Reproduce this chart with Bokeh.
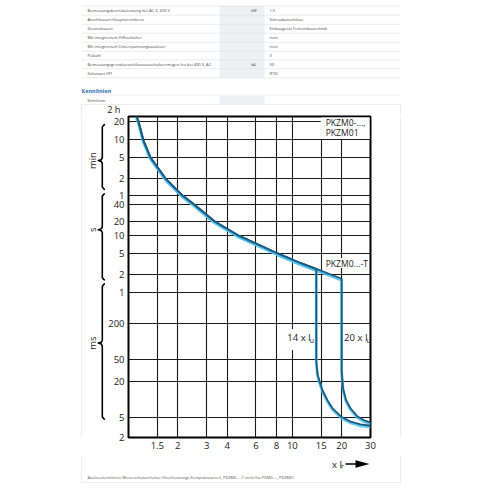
import numpy as np
from bokeh.plotting import figure
from bokeh.layouts import column, row
from bokeh.models import Range1d, LinearScale, FixedTicker, NumeralTickFormatter
from bokeh.core.properties import value
from bokeh.embed import file_html
from bokeh.resources import INLINE

# ---------------- data ----------------
x_ticks = [1.5, 2, 3, 4, 6, 8, 10, 15, 20, 30]
y_tick_seconds = [1200, 600, 300, 120, 60, 40, 20, 10, 5, 2, 1, 0.2, 0.05, 0.02, 0.005, 0.002]
y_tick_labels = ["20", "10", "5", "2", "1", "40", "20", "10", "5", "2", "1", "200", "50", "20", "5", "2"]
top_label = "2 h"
unit_labels = ["min", "s", "ms"]

# common overload part of the tripping curve (x Ir, seconds)
main_current = [1.12, 1.15, 1.23, 1.36, 1.69, 2.15, 2.53, 3.35, 4.75, 8.1, 11.3, 14, 20]
main_time = [7200, 1200, 600, 300, 120, 60, 40, 20, 10, 5, 3.25, 2.54, 1.69]
# short-circuit release PKZM0...-T (14 x Iu)
t_tail_current = [14, 14.23, 14.7, 15.3, 16.4, 17.7, 19.9, 22.7, 26.1, 30]
t_tail_time = [0.048, 0.0276, 0.0195, 0.0141, 0.0096, 0.0069, 0.0051, 0.0041, 0.0036, 0.0034]
# short-circuit release PKZM0-..., PKZM01 (20 x Iu)
std_tail_current = [20, 20.4, 21.3, 22.7, 24.9, 27.3, 30]
std_tail_time = [0.0316, 0.0152, 0.0096, 0.007, 0.0052, 0.0044, 0.0039]

# piecewise logarithmic time scale of the printed chart (seconds -> vertical page position)
scale_seconds = [7200, 1200, 600, 300, 120, 60, 40, 20, 10, 5, 2, 1, 0.2, 0.05, 0.02, 0.005, 0.002]
scale_pos = [116, 120.7, 139.3, 156.7, 178.3, 195.3, 204.3, 220.7, 235.4, 252.7, 274, 291.5,
             323.3, 359, 381, 416.7, 437]

row_labels = ["Bemessungsbetriebsleistung bei AC-3, 400 V", "Anschlussart Hauptstromkreis",
              "Gerätebauart", "Mit integriertem Hilfsschalter",
              "Mit integriertem Unterspannungsauslöser", "Polzahl",
              "Bemessungsgrenzkurzschlussausschaltvermögen Icu bei 400 V, AC", "Schutzart (IP)"]
row_units = ["kW", "", "", "", "", "", "kA", ""]
row_values = ["1.5", "Schraubanschluss", "Einbaugerät Festeinbautechnik", "nein", "nein", "3",
              "50", "IP20"]
caption = ("Auslösekennlinien Motorschutzschalter (Hochleistungs-Kompaktstarter), "
           "PKZM0-...-T nicht für PKM0-..., PKZM01")

# ---------------- helpers ----------------
_lx = -np.log10(np.array(scale_seconds, dtype=float))
_py = np.array(scale_pos, dtype=float)


def ty(t):
    return np.interp(-np.log10(np.asarray(t, dtype=float)), _lx, _py)


FONT = "Open Sans"
DARK = "#1d5c80"
GLOW = "#4cc0f0"
FAINT = "#e8e8e8"
TXT = "#222222"


def aux(x0, x1, y0, y1):
    f = figure(width=int(x1 - x0), height=int(y1 - y0), x_range=Range1d(x0, x1),
               y_range=Range1d(y1, y0), output_backend="svg", toolbar_location=None,
               min_border=0, x_axis_location=None, y_axis_location=None,
               outline_line_color=None, background_fill_color="white",
               border_fill_color="white")
    f.xgrid.visible = False
    f.ygrid.visible = False
    return f


def txt(f, x, y, s, size="9.5px", align="left", color=TXT, style="normal", angle=0.0,
        baseline="middle", **kw):
    f.text(x=[x], y=[y], text=[s], text_font=value(FONT), text_font_size=value(size),
           text_align=align, text_baseline=baseline, text_color=color,
           text_font_style=style, angle=angle, **kw)


def box(f, x0, x1, y0, y1, color, **kw):
    f.quad(left=[x0], right=[x1], top=[y0], bottom=[y1], fill_color=color, line_color=None,
           **kw)


# ---------------- chart ----------------
p = figure(width=275, height=340, x_axis_type="log", x_range=Range1d(1, 30),
           y_range=Range1d(437, 116), output_backend="svg", toolbar_location=None,
           min_border_left=22, min_border_right=10, min_border_top=1, min_border_bottom=18,
           background_fill_color="white", border_fill_color="white")
p.extra_x_ranges = {"px": Range1d(127, 370)}
p.extra_x_scales = {"px": LinearScale()}

xa = p.xaxis[0]
xa.ticker = FixedTicker(ticks=x_ticks)
xa.formatter = NumeralTickFormatter(format="0.[0]")
ya = p.yaxis[0]
ypos = [round(float(v), 2) for v in ty(y_tick_seconds)]
ya.ticker = FixedTicker(ticks=ypos)
ya.major_label_overrides = dict(zip(ypos, y_tick_labels))
for ax in (xa, ya):
    ax.axis_line_color = None
    ax.major_tick_out = 0
    ax.major_tick_in = 0
    ax.minor_tick_out = 0
    ax.minor_tick_in = 0
    ax.major_label_standoff = 4
    ax.major_label_text_font = FONT
    ax.major_label_text_font_size = "9.5px"
    ax.major_label_text_color = TXT

p.xgrid.ticker = FixedTicker(ticks=x_ticks[:-1])
p.ygrid.ticker = FixedTicker(ticks=ypos[:-1])
for g in (p.xgrid[0], p.ygrid[0]):
    g.grid_line_color = "#1a1a1a"
    g.grid_line_width = 1.1
p.outline_line_color = "black"
p.outline_line_width = 2

# white boxes behind the in-chart labels
box(p, 320, 369, 117, 138.6, "white", x_range_name="px")
box(p, 322, 368.5, 257.5, 267.5, "white", x_range_name="px")
box(p, 284, 311.5, 328.5, 349.5, "white", x_range_name="px")

# curves
i14 = main_current.index(14)
curve_t_x = main_current[:i14 + 1] + t_tail_current
curve_t_y = ty(main_time[:i14 + 1] + t_tail_time)
curve_s_x = main_current + std_tail_current
curve_s_y = ty(main_time + std_tail_time)
for cx, cy in ((curve_t_x, curve_t_y), (curve_s_x, curve_s_y)):
    p.line(cx, list(cy + 1.4), line_color=GLOW, line_width=2.8, line_alpha=0.85,
           line_join="round")
for cx, cy in ((curve_t_x, curve_t_y), (curve_s_x, curve_s_y)):
    p.line(cx, list(cy), line_color=DARK, line_width=1.8, line_join="round")

txt(p, 325, 122.7, "PKZM0-...,", size="8.6px", x_range_name="px")
txt(p, 325, 132.7, "PKZM01", size="8.6px", x_range_name="px")
txt(p, 325, 263, "PKZM0...-T", size="8.6px", x_range_name="px")
txt(p, 286.5, 336.5, "14 x I", x_range_name="px")
txt(p, 309.0, 339.5, "u", size="7px", x_range_name="px")
txt(p, 343.5, 336.5, "20 x I", x_range_name="px")
txt(p, 366.0, 339.5, "u", size="7px", x_range_name="px")

# ---------------- top: table and heading ----------------
top = aux(0, 493, 0, 115)
box(top, 219, 264, 5.5, 77.2, "#eef0f3")
seps = [5.5, 14.7, 23.8, 32.7, 41.7, 50.7, 59.3, 68.2, 77.2]
top.segment(x0=[81] * len(seps), x1=[400] * len(seps), y0=seps, y1=seps,
            line_color="#e3e3e3", line_width=0.7)
for i, (lab, unit, val) in enumerate(zip(row_labels, row_units, row_values)):
    yc = (seps[i] + seps[i + 1]) / 2
    txt(top, 87, yc, lab, size="4px", color="#444444")
    if unit:
        txt(top, 250.5, yc, unit, size="4px", color="#444444")
    txt(top, 269, yc, val, size="4px", color="#444444")
txt(top, 81, 90, "Kennlinien", size="5.5px", color="#2d6fb0", style="bold")
top.segment(x0=[81, 81], x1=[400, 400], y0=[94.5, 104], y1=[94.5, 104], line_color=FAINT,
            line_width=0.8)
box(top, 219, 264, 95.5, 103.5, "#eef0f3")
txt(top, 87, 99.5, "Kennlinien", size="3.6px", color="#444444")
top.segment(x0=[81, 400], x1=[81, 400], y0=[104, 104], y1=[115, 115], line_color=FAINT,
            line_width=0.8)
txt(top, 120, 108.6, top_label, size="9.2px", align="right")

# ---------------- left: braces and unit names ----------------
left = aux(0, 105, 115, 455)
left.segment(x0=[81], x1=[81], y0=[115], y1=[455], line_color=FAINT, line_width=0.8)
brace_spans = [(123.3, 161.7, 192.5), (196.5, 235.0, 288.5), (292.0, 355.0, 436.0)]
for (b_top, b_tip, b_bot), name in zip(brace_spans, unit_labels):
    xs = [105.5, 103.2, 101.8, 101.8, 100.8, 97.8, 100.8, 101.8, 101.8, 103.2, 105.5]
    ys = [b_top, b_top + 0.8, b_top + 3, b_tip - 3, b_tip - 1, b_tip, b_tip + 1, b_tip + 3,
          b_bot - 3, b_bot - 0.8, b_bot]
    left.line(xs, ys, line_color="black", line_width=1.6, line_join="round")
    txt(left, 91.5, b_tip, name, align="center", angle=np.pi / 2)

# ---------------- right ----------------
right = aux(380, 493, 115, 455)
right.segment(x0=[400], x1=[400], y0=[115], y1=[455], line_color=FAINT, line_width=0.8)

# ---------------- bottom: axis title and caption ----------------
bottom = aux(0, 493, 455, 493)
txt(bottom, 331.5, 463.5, "x I")
txt(bottom, 340.6, 466.3, "r", size="6.5px")
bottom.segment(x0=[345], x1=[357], y0=[463.5], y1=[463.5], line_color="black", line_width=1.4)
bottom.patch(x=[355, 369, 355], y=[459.8, 463.5, 467.2], fill_color="black", line_color=None)
txt(bottom, 87, 476.7, caption, size="4px", color="#555555")
bottom.segment(x0=[81, 400, 81], x1=[81, 400, 400], y0=[455, 455, 482], y1=[482, 482, 482],
               line_color=FAINT, line_width=0.8)

layout = column(top, row(left, p, right), bottom)
open("out.html", "w").write(file_html(layout, INLINE))
